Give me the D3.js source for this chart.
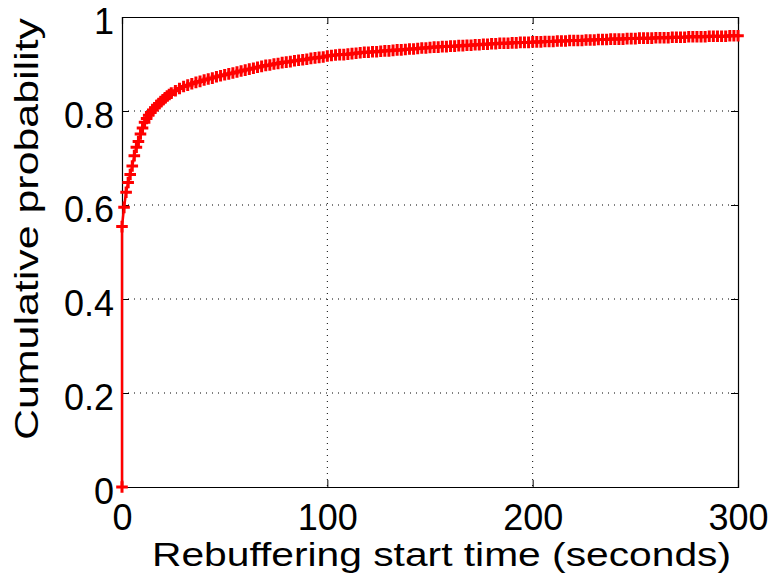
<!DOCTYPE html>
<html>
<head>
<meta charset="utf-8">
<script src="https://cdn.jsdelivr.net/npm/d3@7"></script>
<style>
  html, body { margin: 0; padding: 0; background: #fff; }
  svg { display: block; }
  text { font-family: "Liberation Sans", Arial, Helvetica, sans-serif; fill: #000; }
</style>
</head>
<body>
<svg id="chart" width="774" height="576"></svg>
<script>
// Empirical CDF of rebuffering start time
const startTimes = [
  0, 0, 1, 2, 3, 4, 5, 6, 7, 8, 9, 10, 11, 12, 13, 14, 15, 16, 17, 18, 19, 20, 21, 22, 23,
  24, 26, 28, 30, 32, 34, 36, 38, 40, 42, 44, 46, 48, 50, 52, 54, 56, 58, 60,
  62, 64, 66, 68, 70, 72, 74, 76, 78, 80, 82, 84, 86, 88, 90, 92, 94, 96, 98, 100,
  102, 104, 106, 108, 110, 112, 114, 116, 118, 120, 122, 124, 126, 128, 130, 132, 134, 136, 138, 140,
  142, 144, 146, 148, 150, 152, 154, 156, 158, 160, 162, 164, 166, 168, 170, 172, 174, 176, 178, 180,
  182, 184, 186, 188, 190, 192, 194, 196, 198, 200, 202, 204, 206, 208, 210, 212, 214, 216, 218, 220,
  222, 224, 226, 228, 230, 232, 234, 236, 238, 240, 242, 244, 246, 248, 250, 252, 254, 256, 258, 260,
  262, 264, 266, 268, 270, 272, 274, 276, 278, 280, 282, 284, 286, 288, 290, 292, 294, 296, 298, 300
];
const cumulativeProb = [
  0, 0.554, 0.595, 0.627, 0.648, 0.665, 0.683, 0.705, 0.723, 0.735, 0.751, 0.764, 0.776, 0.784, 0.791, 0.797, 0.802, 0.807, 0.812, 0.816, 0.820, 0.824, 0.828, 0.832, 0.835,
  0.838, 0.843, 0.848, 0.852, 0.855, 0.858, 0.861, 0.863, 0.866, 0.868, 0.870, 0.873, 0.875, 0.877, 0.879, 0.881, 0.883, 0.885, 0.887,
  0.889, 0.891, 0.893, 0.895, 0.897, 0.898, 0.900, 0.901, 0.903, 0.904, 0.905, 0.907, 0.908, 0.909, 0.910, 0.912, 0.913, 0.914, 0.915, 0.917,
  0.918, 0.919, 0.920, 0.920, 0.921, 0.922, 0.923, 0.924, 0.925, 0.925, 0.926, 0.926, 0.927, 0.928, 0.928, 0.929, 0.930, 0.930, 0.931, 0.932,
  0.932, 0.933, 0.934, 0.934, 0.935, 0.936, 0.936, 0.937, 0.937, 0.938, 0.938, 0.939, 0.939, 0.940, 0.940, 0.941, 0.941, 0.942, 0.942, 0.943,
  0.943, 0.944, 0.944, 0.944, 0.945, 0.945, 0.946, 0.946, 0.946, 0.947, 0.947, 0.947, 0.948, 0.948, 0.948, 0.949, 0.949, 0.949, 0.950, 0.950,
  0.950, 0.950, 0.951, 0.951, 0.951, 0.952, 0.952, 0.952, 0.953, 0.953, 0.953, 0.953, 0.954, 0.954, 0.954, 0.955, 0.955, 0.955, 0.955, 0.956,
  0.956, 0.956, 0.956, 0.957, 0.957, 0.957, 0.957, 0.958, 0.958, 0.958, 0.958, 0.958, 0.959, 0.959, 0.959, 0.959, 0.959, 0.960, 0.960, 0.960
];
const xTickValues = [0, 100, 200, 300];
const yTickValues = [0, 0.2, 0.4, 0.6, 0.8, 1];
const xTitle = "Rebuffering start time (seconds)";
const yTitle = "Cumulative probability";

const svg = d3.select("#chart");
const margin = { left: 122, top: 17, right: 36, bottom: 89 };
const W = 774, H = 576;
const innerW = W - margin.left - margin.right;
const innerH = H - margin.top - margin.bottom;

const x = d3.scaleLinear().domain([0, 300]).range([0, innerW]);
const y = d3.scaleLinear().domain([0, 1]).range([innerH, 0]);

const g = svg.append("g").attr("transform", `translate(${margin.left},${margin.top})`);

// Dotted grid at interior ticks
g.append("g").selectAll("line")
  .data(xTickValues.filter(v => v > 0 && v < 300))
  .join("line")
  .attr("x1", d => x(d)).attr("x2", d => x(d))
  .attr("y1", 0).attr("y2", innerH)
  .attr("stroke", "#000").attr("stroke-width", 1)
  .attr("stroke-dasharray", "1,5");
g.append("g").selectAll("line")
  .data(yTickValues.filter(v => v > 0 && v < 1))
  .join("line")
  .attr("x1", 0).attr("x2", innerW)
  .attr("y1", d => y(d)).attr("y2", d => y(d))
  .attr("stroke", "#000").attr("stroke-width", 1)
  .attr("stroke-dasharray", "1,5");

// Axes with inward ticks on all four sides
const tickLen = 7;
const tickFont = 36;
const axB = g.append("g").attr("transform", `translate(0,${innerH})`)
  .call(d3.axisBottom(x).tickValues(xTickValues).tickSize(-tickLen).tickFormat(d3.format("d")));
const axT = g.append("g")
  .call(d3.axisTop(x).tickValues(xTickValues).tickSize(-tickLen).tickFormat(""));
const axL = g.append("g")
  .call(d3.axisLeft(y).tickValues(yTickValues).tickSize(-tickLen)
    .tickFormat(d => d === 0 || d === 1 ? d3.format("d")(d) : d3.format(".1f")(d)));
const axR = g.append("g").attr("transform", `translate(${innerW},0)`)
  .call(d3.axisRight(y).tickValues(yTickValues).tickSize(-tickLen).tickFormat(""));

[axB, axT, axL, axR].forEach(a => {
  a.select(".domain").attr("stroke", "#000").attr("stroke-width", 1.2);
  a.selectAll(".tick line").attr("stroke", "#000").attr("stroke-width", 1);
  a.selectAll("text").attr("font-size", tickFont)
    .attr("font-family", "'Liberation Sans', Arial, Helvetica, sans-serif").attr("fill", "#000");
});
axB.selectAll(".tick text").attr("y", 43).attr("dy", 0);
axL.selectAll(".tick text").attr("x", -8).attr("y", 5).attr("dy", "0.32em");

// CDF line with plus markers
const pts = startTimes.map((t, i) => [t, cumulativeProb[i]]);
const line = d3.line().x(d => x(d[0])).y(d => y(d[1]));
g.append("path").datum(pts)
  .attr("d", line)
  .attr("fill", "none").attr("stroke", "#ff0000").attr("stroke-width", 2.5);

const m = 5.8;
g.append("g").selectAll("path")
  .data(pts)
  .join("path")
  .attr("d", d => {
    const cx = x(d[0]), cy = y(d[1]);
    return `M${cx - m},${cy}H${cx + m}M${cx},${cy - m}V${cy + m}`;
  })
  .attr("stroke", "#ff0000").attr("stroke-width", 3).attr("fill", "none");

// Axis titles
svg.append("text")
  .attr("x", 441.5).attr("y", 566)
  .attr("text-anchor", "middle").attr("font-size", 34)
  .attr("textLength", 579).attr("lengthAdjust", "spacingAndGlyphs")
  .text(xTitle);
svg.append("text")
  .attr("transform", `translate(38,229) rotate(-90)`)
  .attr("text-anchor", "middle").attr("font-size", 34)
  .attr("textLength", 422).attr("lengthAdjust", "spacingAndGlyphs")
  .text(yTitle);
</script>
</body>
</html>
